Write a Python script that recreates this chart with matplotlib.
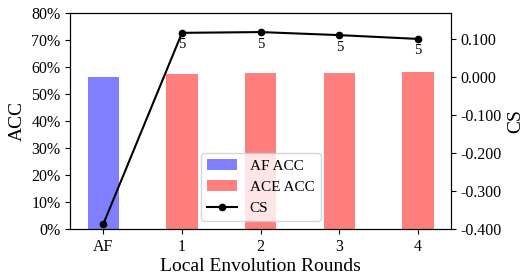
import matplotlib
matplotlib.use("Agg")
import matplotlib.pyplot as plt
from matplotlib.ticker import FuncFormatter
import numpy as np

plt.rcParams['font.family'] = ['Liberation Serif', 'DejaVu Serif']
plt.rcParams['mathtext.fontset'] = 'stix'

categories = ["AF", "1", "2", "3", "4"]
af_acc = [56.4]
ace_acc = [57.4, 57.8, 57.9, 58.0]
cs_values = [-0.387, 0.116, 0.118, 0.110, 0.100]
cs_labels = ["", "5", "5", "5", "5"]

fig, ax = plt.subplots(figsize=(5.32, 2.78), dpi=100)
x = np.arange(len(categories))
w = 0.4
ax.bar(x[:1], af_acc, w, color='blue', alpha=0.5, label='AF ACC')
ax.bar(x[1:], ace_acc, w, color='red', alpha=0.5, label='ACE ACC')
ax.set_ylim(0, 80)
ax.set_yticks(np.arange(0, 81, 10))
ax.yaxis.set_major_formatter(FuncFormatter(lambda v, p: f"{int(v)}%"))
ax.set_xticks(x)
ax.set_xticklabels(categories)
ax.set_ylabel("ACC", fontsize=14)
ax.set_xlabel("Local Envolution Rounds", fontsize=14, labelpad=2)
ax.tick_params(labelsize=11.5)

ax2 = ax.twinx()
line, = ax2.plot(x, cs_values, color='black', marker='o', markersize=4.5, linewidth=1.5, label='CS')
ax2.set_ylim(-0.4, 0.168)
ax2.set_yticks([-0.4, -0.3, -0.2, -0.1, 0.0, 0.1])
ax2.yaxis.set_major_formatter(FuncFormatter(lambda v, p: f"{v:.3f}"))
ax2.set_ylabel("CS", fontsize=14)
ax2.tick_params(labelsize=11.5)
for xi, yi, lab in zip(x, cs_values, cs_labels):
    if lab:
        ax2.annotate(lab, (xi, yi), xytext=(0, -4), textcoords='offset points',
                     ha='center', va='top', fontsize=10.5)

h1, l1 = ax.get_legend_handles_labels()
h2, l2 = ax2.get_legend_handles_labels()
ax2.legend(h1 + h2, l1 + l2, loc='lower center', fontsize=11)

fig.subplots_adjust(left=0.132, right=0.848, top=0.953, bottom=0.176)
fig.savefig("out.png", dpi=100)
